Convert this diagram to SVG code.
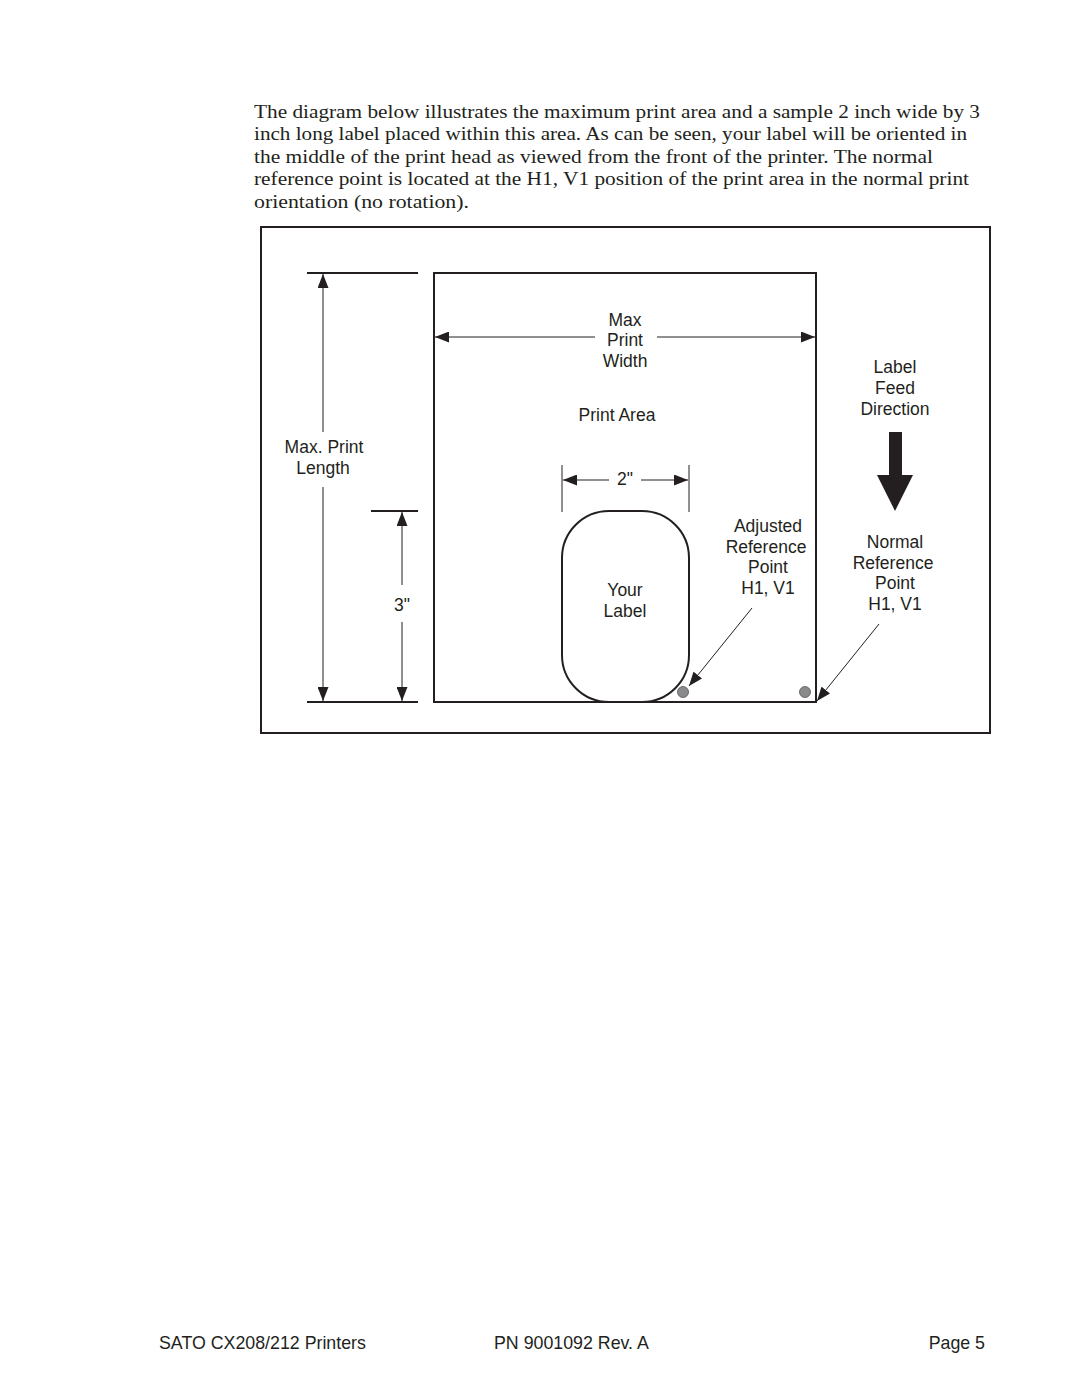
<svg xmlns="http://www.w3.org/2000/svg" width="1080" height="1397" viewBox="0 0 1080 1397">
<style>
.p{font-family:"Liberation Serif",serif;font-size:19.5px;fill:#231f20}
.s{font-family:"Liberation Sans",Arial,sans-serif;font-size:17.5px;fill:#231f20;text-anchor:middle}
.f{font-family:"Liberation Sans",Arial,sans-serif;font-size:17.8px;fill:#231f20}
.ln{stroke:#231f20;stroke-width:1;fill:none}
.bx{stroke:#231f20;stroke-width:2;fill:none}
</style>
<defs>
<marker id="ah" viewBox="0 0 14 11" refX="14" refY="5.5" markerWidth="14" markerHeight="11" markerUnits="userSpaceOnUse" orient="auto"><path d="M0,0L14,5.5L0,11z" fill="#231f20"/></marker>
</defs>
<rect width="1080" height="1397" fill="#fff"/>
<g id="paragraph">
<text class="p" x="254" y="118" textLength="726" lengthAdjust="spacingAndGlyphs">The diagram below illustrates the maximum print area and a sample 2 inch wide by 3</text>
<text class="p" x="254" y="140" textLength="713" lengthAdjust="spacingAndGlyphs">inch long label placed within this area. As can be seen, your label will be oriented in</text>
<text class="p" x="254" y="163" textLength="679" lengthAdjust="spacingAndGlyphs">the middle of the print head as viewed from the front of the printer. The normal</text>
<text class="p" x="254" y="185" textLength="715" lengthAdjust="spacingAndGlyphs">reference point is located at the H1, V1 position of the print area in the normal print</text>
<text class="p" x="254" y="208" textLength="215" lengthAdjust="spacingAndGlyphs">orientation (no rotation).</text>
</g>
<g id="frame"><rect class="bx" x="261" y="227" width="729" height="506"/></g>
<g id="print-area"><rect class="bx" x="434" y="273" width="382" height="429"/>
<text class="s" x="617" y="421">Print Area</text></g>
<g id="your-label"><rect class="bx" x="562" y="511" width="127" height="191" rx="47" ry="47"/>
<text class="s" x="625" y="596">Your</text><text class="s" x="625" y="617">Label</text></g>
<g id="adjusted-point"><circle cx="683" cy="692" r="5.5" fill="#8a8a8c" stroke="#555" stroke-width="0.8"/>
<text class="s" x="768" y="532">Adjusted</text><text class="s" x="766" y="553">Reference</text><text class="s" x="768" y="573">Point</text><text class="s" x="768" y="594">H1, V1</text></g>
<g id="normal-point"><circle cx="805" cy="692" r="5.5" fill="#8a8a8c" stroke="#555" stroke-width="0.8"/>
<text class="s" x="895" y="548">Normal</text><text class="s" x="893" y="569">Reference</text><text class="s" x="895" y="589">Point</text><text class="s" x="895" y="610">H1, V1</text></g>
<g id="feed-direction">
<text class="s" x="895" y="373">Label</text><text class="s" x="895" y="394">Feed</text><text class="s" x="895" y="415">Direction</text>
<path d="M889,432H902V475H913L895,511L877,475H889Z" fill="#231f20"/></g>
<g id="dimension-labels">
<text class="s" x="324" y="453">Max. Print</text><text class="s" x="323" y="474">Length</text>
<text class="s" x="402" y="611">3"</text>
<text class="s" x="625" y="326">Max</text><text class="s" x="625" y="346">Print</text><text class="s" x="625" y="367">Width</text>
<text class="s" x="625" y="485">2"</text>
</g>
<g id="connectors">
<line class="bx" x1="307" y1="273" x2="418" y2="273"/>
<line class="bx" x1="307" y1="702" x2="418" y2="702"/>
<line class="bx" x1="371" y1="511" x2="418" y2="511"/>
<line class="ln" x1="323" y1="432" x2="323" y2="274" marker-end="url(#ah)"/>
<line class="ln" x1="323" y1="487" x2="323" y2="701" marker-end="url(#ah)"/>
<line class="ln" x1="402" y1="585" x2="402" y2="512" marker-end="url(#ah)"/>
<line class="ln" x1="402" y1="622" x2="402" y2="701" marker-end="url(#ah)"/>
<line class="ln" x1="595" y1="337" x2="435" y2="337" marker-end="url(#ah)"/>
<line class="ln" x1="657" y1="337" x2="815" y2="337" marker-end="url(#ah)"/>
<line class="ln" x1="562" y1="465" x2="562" y2="512"/>
<line class="ln" x1="689" y1="465" x2="689" y2="512"/>
<line class="ln" x1="609" y1="480" x2="563" y2="480" marker-end="url(#ah)"/>
<line class="ln" x1="641" y1="480" x2="688" y2="480" marker-end="url(#ah)"/>
<line class="ln" x1="752" y1="608" x2="689" y2="686" marker-end="url(#ah)"/>
<line class="ln" x1="879" y1="624" x2="817" y2="701" marker-end="url(#ah)"/>
</g>
<g id="footer">
<text class="f" x="159" y="1349">SATO CX208/212 Printers</text>
<text class="f" x="494" y="1349">PN 9001092 Rev. A</text>
<text class="f" x="985" y="1349" text-anchor="end">Page 5</text>
</g>
</svg>
